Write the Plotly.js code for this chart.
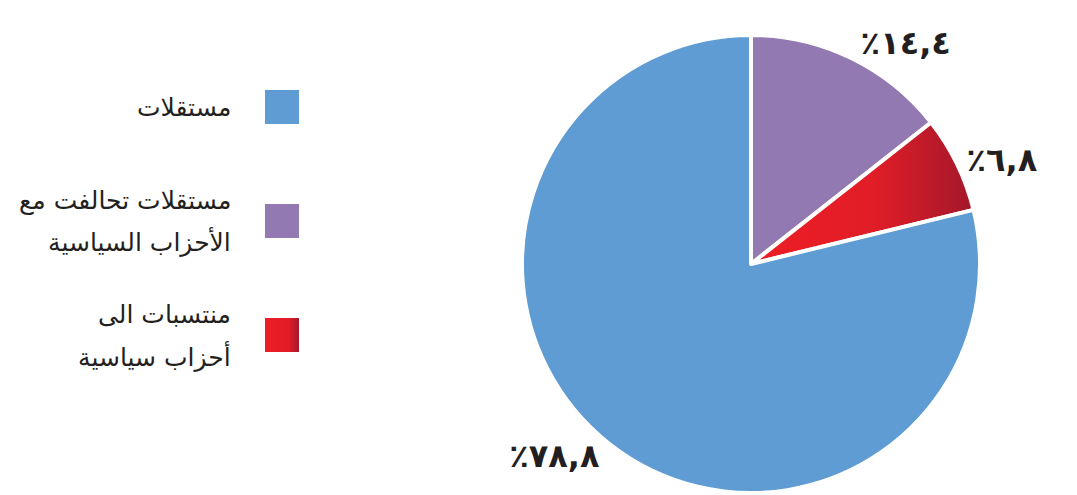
<!DOCTYPE html>
<html>
<head>
<meta charset="utf-8">
<script src="https://cdn.plot.ly/plotly-3.0.1.min.js"></script>
<style>
html,body{margin:0;padding:0;background:#fff;}
#chart{width:1077px;height:495px;}
</style>
</head>
<body>
<div id="chart"></div>
<script>
// Data (pie order, clockwise from 12 o'clock)
const categories = ["مستقلات تحالفت مع<br>الأحزاب السياسية", "منتسبات الى<br>أحزاب سياسية", "مستقلات"];
const values = [14.4, 6.8, 78.8];
const colors = ["#9279B1", "#E11E27", "#5E9CD3"];
// Legend order (top to bottom)
const legendOrder = [2, 0, 1];

function toArabicDigits(v) {
  const d = "٠١٢٣٤٥٦٧٨٩";
  return "٪" + v.toFixed(1).replace(/\d/g, c => d[+c]).replace(".", ",");
}
const labelTexts = values.map(toArabicDigits);

const trace = {
  type: "pie",
  labels: categories,
  values: values,
  text: labelTexts,
  textinfo: "text",
  textposition: "outside",
  sort: false,
  direction: "clockwise",
  rotation: 0,
  hoverinfo: "none",
  marker: { colors: colors, line: { color: "#ffffff", width: 4 } },
  outsidetextfont: { family: "DejaVu Sans", size: 32, color: "#231F20", weight: "bold" },
  domain: { x: [522/1077, 980/1077], y: [2/495, 460/495] },
  showlegend: false
};

const W = 1077, H = 495;
const annotations = [];
const shapes = [];
const sqTops = [90, 204, 318];
legendOrder.forEach((idx, i) => {
  const top = sqTops[i];
  const cy = top + 17;
  shapes.push({
    type: "rect", xref: "paper", yref: "paper",
    x0: 265/W, x1: 299/W, y0: 1 - (top + 34)/H, y1: 1 - top/H,
    fillcolor: colors[idx], line: { width: 0 }
  });
  const lines = categories[idx].split("<br>");
  const spacing = 41;
  lines.forEach((ln, j) => {
    const y = cy + (j - (lines.length - 1) / 2) * spacing;
    annotations.push({
      xref: "paper", yref: "paper", x: 233/W, y: 1 - y/H,
      xanchor: "right", yanchor: "middle", showarrow: false,
      text: ln, font: { family: "DejaVu Sans", size: 25, color: "#231F20" }
    });
  });
});

const layout = {
  width: W, height: H,
  margin: { l: 0, r: 0, t: 0, b: 0 },
  paper_bgcolor: "#ffffff",
  plot_bgcolor: "#ffffff",
  showlegend: false,
  annotations: annotations,
  shapes: shapes
};

Plotly.newPlot("chart", [trace], layout, { displayModeBar: false, staticPlot: true }).then(gd => {
  // Add the red left-to-right gradient seen in the reference
  const NS = "http://www.w3.org/2000/svg";
  const svg = gd.querySelector(".main-svg");
  let defs = svg.querySelector("defs");
  if (!defs) { defs = document.createElementNS(NS, "defs"); svg.insertBefore(defs, svg.firstChild); }
  const grad = document.createElementNS(NS, "linearGradient");
  grad.setAttribute("id", "redGrad");
  grad.setAttribute("x1", "0"); grad.setAttribute("y1", "0");
  grad.setAttribute("x2", "1"); grad.setAttribute("y2", "0");
  [["0", "#EE1D25"], ["0.55", "#E11D27"], ["1", "#A3182B"]].forEach(([o, c]) => {
    const s = document.createElementNS(NS, "stop");
    s.setAttribute("offset", o); s.setAttribute("stop-color", c);
    grad.appendChild(s);
  });
  defs.appendChild(grad);
  const grad2 = grad.cloneNode(true);
  grad2.setAttribute("id", "redGradSq");
  grad2.children[1].setAttribute("offset", "0.7");
  defs.appendChild(grad2);
  const slices = gd.querySelectorAll(".slice path.surface");
  if (slices[1]) slices[1].style.fill = "url(#redGrad)";
  const shp = gd.querySelectorAll(".shapelayer path");
  if (shp[2]) shp[2].style.fill = "url(#redGradSq)";
});
</script>
</body>
</html>
